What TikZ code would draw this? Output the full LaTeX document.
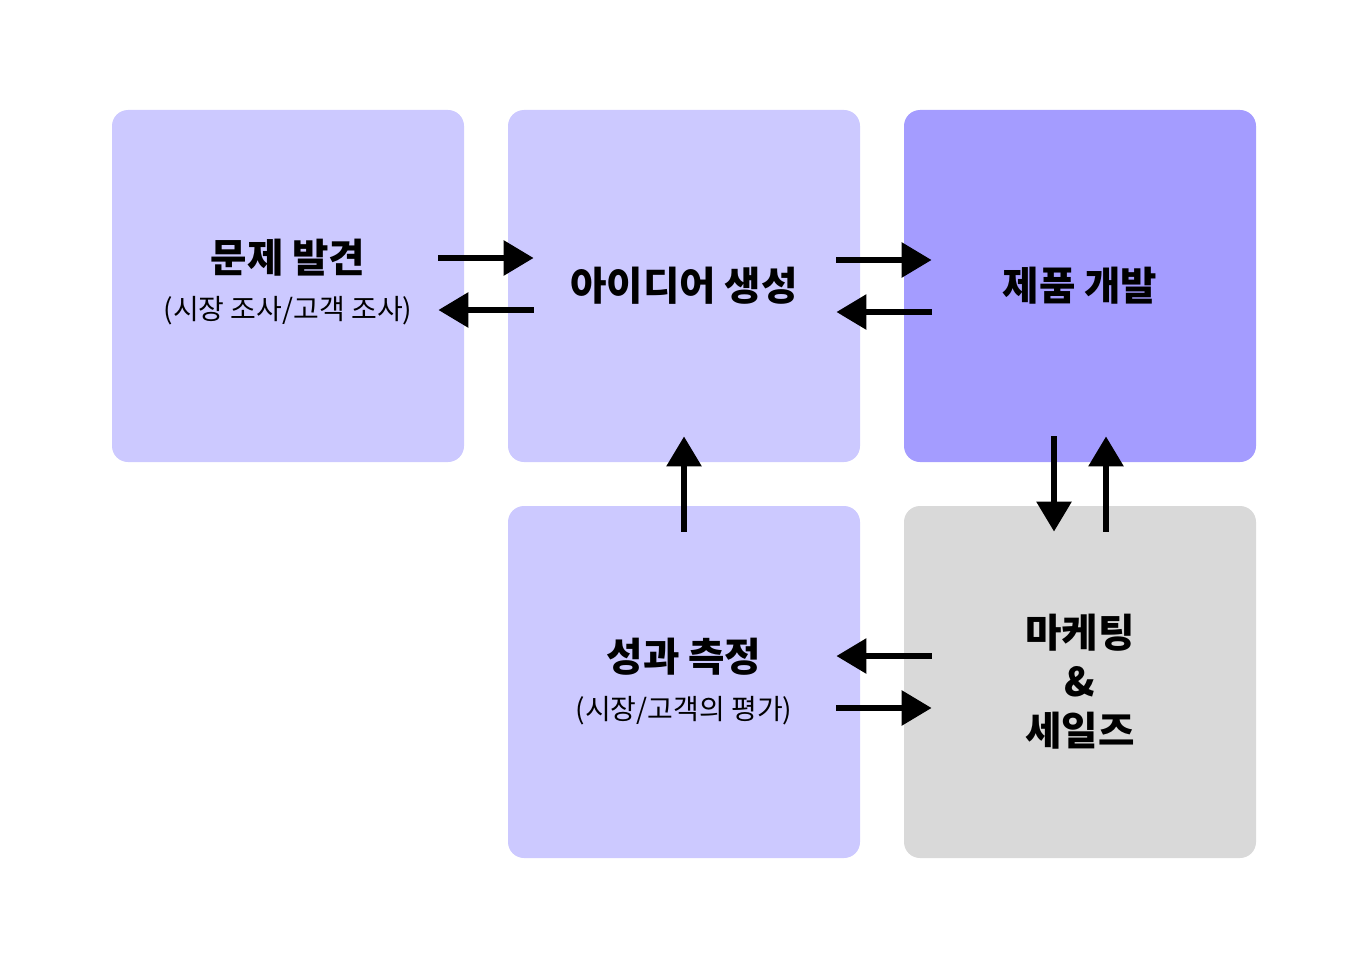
\documentclass[tikz,border=0pt]{standalone}
\usepackage{fontspec}
\setmainfont{Noto Sans CJK KR}
\usepackage{xcolor}
\usetikzlibrary{arrows.meta, positioning}
\definecolor{lav_light}{HTML}{CCC9FF}
\definecolor{lav_dark}{HTML}{A49CFF}
\definecolor{box_grey}{HTML}{D9D9D9}
\tikzset{
    stage/.style={minimum width=176pt, minimum height=176pt, rounded corners=8pt, inner sep=0pt},
    flow/.style={-{Triangle[length=15pt, width=17pt]}, line width=3pt},
    title_text/.style={font=\fontsize{19.8}{24.5}\selectfont\bfseries, align=center},
    sub_text/.style={font=\fontsize{14}{16}\selectfont}
}

\begin{document}
\begin{tikzpicture}[x=0.5pt, y=-0.5pt]
    \useasboundingbox (0,0) rectangle (1368,968);
    % Stages
    \node[stage, fill=lav_light] (prob) at (288,286) {};
    \node[stage, fill=lav_light] (idea) at (684,286) {};
    \node[stage, fill=lav_dark] (dev) at (1080,286) {};
    \node[stage, fill=lav_light] (meas) at (684,682) {};
    \node[stage, fill=box_grey] (mkt) at (1080,682) {};
    % Labels
    \node[title_text] (prob_title) at ([yshift=14pt]prob.center) {문제 발견};
    \node[sub_text] (prob_sub) at ([yshift=-12.5pt]prob.center) {(시장 조사/고객 조사)};
    \node[title_text] (idea_title) at (idea.center) {아이디어 생성};
    \node[title_text] (dev_title) at (dev.center) {제품 개발};
    \node[title_text] (mkt_title) at (mkt.center) {마케팅\\\&\\세일즈};
    \node[title_text] (meas_title) at ([yshift=12.5pt]meas.center) {성과 측정};
    \node[sub_text] (meas_sub) at ([yshift=-14.5pt]meas.center) {(시장/고객의 평가)};
    % Flows between stages
    \draw[flow] ([xshift=-13pt, yshift=14pt]prob.east) -- ([xshift=13pt, yshift=14pt]idea.west);
    \draw[flow] ([xshift=13pt, yshift=-12pt]idea.west) -- ([xshift=-13pt, yshift=-12pt]prob.east);
    \draw[flow] ([xshift=-12pt, yshift=13pt]idea.east) -- ([xshift=14pt, yshift=13pt]dev.west);
    \draw[flow] ([xshift=14pt, yshift=-13pt]dev.west) -- ([xshift=-12pt, yshift=-13pt]idea.east);
    \draw[flow] ([xshift=-13pt, yshift=13pt]dev.south) -- ([xshift=-13pt, yshift=-13pt]mkt.north);
    \draw[flow] ([xshift=13pt, yshift=-13pt]mkt.north) -- ([xshift=13pt, yshift=13pt]dev.south);
    \draw[flow] ([xshift=14pt, yshift=13pt]mkt.west) -- ([xshift=-12pt, yshift=13pt]meas.east);
    \draw[flow] ([xshift=-12pt, yshift=-13pt]meas.east) -- ([xshift=14pt, yshift=-13pt]mkt.west);
    \draw[flow] ([yshift=-13pt]meas.north) -- ([yshift=13pt]idea.south);
\end{tikzpicture}
\end{document}
